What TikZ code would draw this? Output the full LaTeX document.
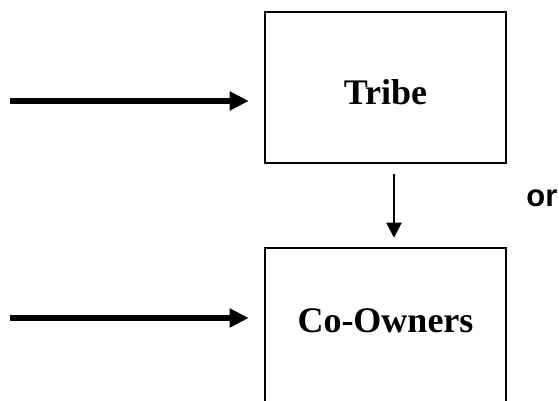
\documentclass[tikz,border=0pt]{standalone}
\usepackage{fontspec}
\setmainfont{Liberation Serif}
\newfontfamily\orfont{Liberation Sans}
\usetikzlibrary{arrows.meta}
\begin{document}
\begin{tikzpicture}[x=0.5pt,y=-0.5pt,
    box/.style={draw,line width=1.25pt,minimum width=120.5pt,inner sep=0},
    boxtext/.style={font=\fontsize{18}{20}\selectfont\bfseries,anchor=base,inner sep=0},
    bigarrow/.style={line width=3pt,-{Triangle[length=9.5pt,width=9pt]}},
    smallarrow/.style={line width=1pt,-{Triangle[length=7.5pt,width=7.5pt]}}]
    \useasboundingbox (0,0) rectangle (559,401);
    %BOXES
    \node[box,minimum height=75.5pt] (tribe) at (385.5,87.5) {};
    \node[box,minimum height=77pt] (owners) at (385.5,325) {};
    \node[boxtext] (tribetext) at (385.5,105) {Tribe};
    \node[boxtext] (ownerstext) at (385.5,333) {Co-Owners};
    %ARROWS IN FROM THE LEFT
    \coordinate (in1) at (10,101);
    \coordinate (in2) at (10,318);
    \draw[bigarrow,shorten >=7.5pt] (in1) -- (tribe.west |- in1);
    \draw[bigarrow,shorten >=7.5pt] (in2) -- (owners.west |- in2);
    %ARROW BETWEEN THE BOXES
    \draw[smallarrow] ([xshift=4.25pt,yshift=-5pt]tribe.south) -- ([xshift=4.25pt,yshift=4.5pt]owners.north);
    %OR
    \node[font=\orfont\fontsize{15.5}{18}\selectfont\bfseries,inner sep=0] (or) at (542,198) {or};
\end{tikzpicture}
\end{document}
